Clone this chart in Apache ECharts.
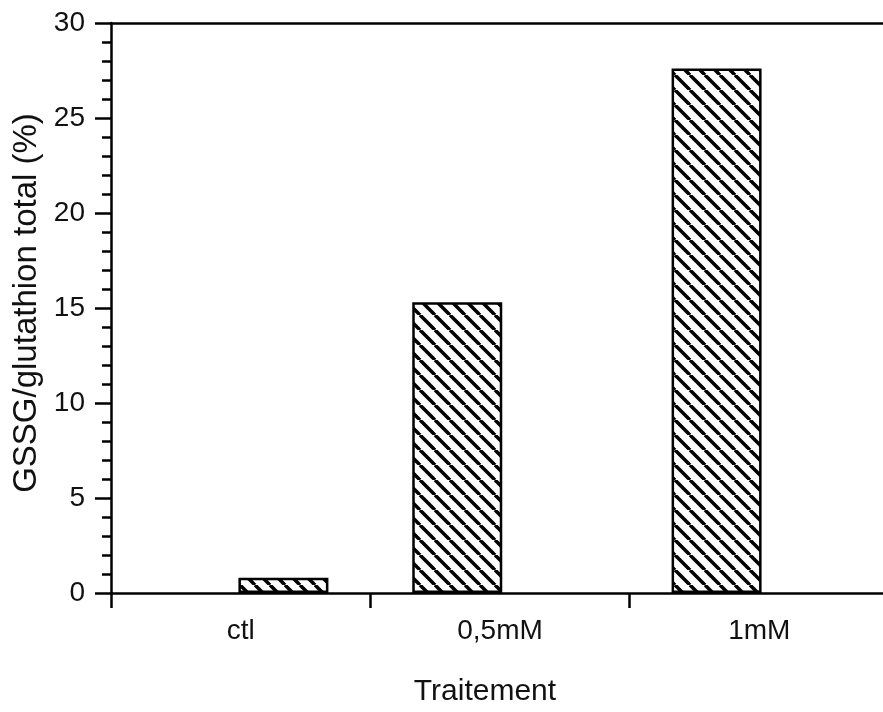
<!DOCTYPE html>
<html>
<head>
<meta charset="utf-8">
<script src="https://cdn.jsdelivr.net/npm/echarts@6/dist/echarts.min.js"></script>
<style>
  html, body { margin: 0; padding: 0; background: #fff; }
  #main { width: 883px; height: 712px; }
</style>
</head>
<body>
<div id="main"></div>
<script>
// data
var categories = ['ctl', '0,5mM', '1mM'];
var ratioValues = [0.8, 15.3, 27.6];   // GSSG / glutathion total, %
var yTicks = [0, 5, 10, 15, 20, 25, 30];

// hatching tile (diagonal stripes)
function hatchTile() {
  var c = document.createElement('canvas');
  c.width = 15; c.height = 15;
  var ctx = c.getContext('2d');
  ctx.fillStyle = '#fff';
  ctx.fillRect(0, 0, 15, 15);
  ctx.strokeStyle = '#000';
  ctx.lineWidth = 3.5;
  [-15, 0, 15].forEach(function (k) {
    ctx.beginPath();
    ctx.moveTo(k, 0);
    ctx.lineTo(k + 15, 15);
    ctx.stroke();
  });
  return c;
}
var hatch = { image: hatchTile(), repeat: 'repeat' };

// the original bars sit off-centre: ctl to the right, the others to the left
var leftBars = ratioValues.map(function (v, i) { return i === 0 ? '-' : v; });
var rightBars = ratioValues.map(function (v, i) { return i === 0 ? v : '-'; });

var font = '"Liberation Sans", Arial, Helvetica, sans-serif';
var chart = echarts.init(document.getElementById('main'), null, { renderer: 'canvas' });

var barStyle = {
  color: hatch,
  borderColor: '#000',
  borderWidth: 2.5
};

chart.setOption({
  animation: false,
  backgroundColor: '#fff',
  // x axis runs a little past the right edge of the picture
  grid: { left: 111, width: 778, top: 23, bottom: 119, outerBoundsMode: 'none' },
  xAxis: [{
    type: 'category',
    data: categories,
    boundaryGap: true,
    name: 'Traitement',
    nameLocation: 'middle',
    nameGap: 84,
    nameTextStyle: { fontFamily: font, fontSize: 30, color: '#111', padding: [0, 30, 0, 0] },
    axisLine: { lineStyle: { color: '#000', width: 2.5 } },
    axisTick: { show: true, length: 15, lineStyle: { color: '#000', width: 2.5 } },
    axisLabel: { fontFamily: font, fontSize: 28, color: '#111', margin: 24 },
    splitLine: { show: false }
  }, {
    type: 'category',
    position: 'top',
    data: categories,
    axisLine: { lineStyle: { color: '#000', width: 2.5 } },
    axisTick: { show: false },
    axisLabel: { show: false }
  }],
  yAxis: {
    type: 'value',
    min: yTicks[0],
    max: yTicks[yTicks.length - 1],
    interval: 5,
    name: 'GSSG/glutathion total (%)',
    nameLocation: 'middle',
    nameGap: 68,
    nameTextStyle: { fontFamily: font, fontSize: 33, color: '#111', padding: [0, 0, 0, 10] },
    axisLine: { show: true, lineStyle: { color: '#000', width: 2.5 } },
    axisTick: { show: true, length: 16, lineStyle: { color: '#000', width: 2.5 } },
    minorTick: { show: true, splitNumber: 5, length: 9, lineStyle: { color: '#000', width: 2.5 } },
    axisLabel: { fontFamily: font, fontSize: 28, color: '#111', margin: 26 },
    splitLine: { show: false }
  },
  series: [{
    type: 'bar',
    data: leftBars,
    barWidth: 90,
    barGap: '-5%',
    itemStyle: barStyle
  }, {
    type: 'bar',
    data: rightBars,
    barWidth: 90,
    barGap: '-5%',
    itemStyle: barStyle
  }]
});
</script>
</body>
</html>
